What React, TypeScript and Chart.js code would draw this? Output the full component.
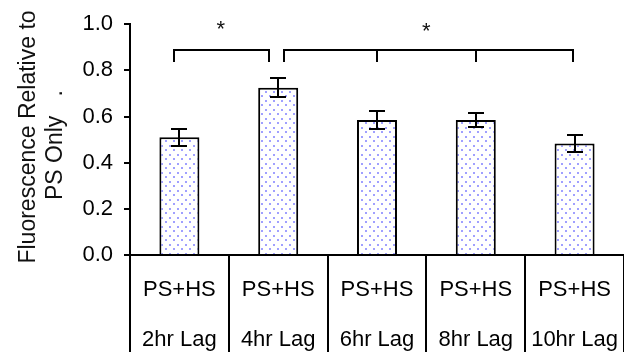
import React, { useEffect, useRef } from 'react';
import { Chart, registerables } from 'chart.js';

Chart.register(...registerables);

// ---- data ----
const treatment = 'PS+HS';
const lags = ['2hr Lag', '4hr Lag', '6hr Lag', '8hr Lag', '10hr Lag'];
const means = [0.51, 0.725, 0.585, 0.585, 0.483];
const sems = [0.038, 0.04, 0.039, 0.03, 0.035];
const yTitle = ['Fluorescence Relative to', 'PS Only   .'];
// significance brackets (category positions) and heights (data units)
const bracket1Legs = [-0.05, 0.91];
const bracket2Legs = [1.06, 2, 3, 3.98];
const bracketTop = 0.888;
const bracketFoot = 0.835;
const starX = [0.42, 2.5];
const starY = [0.98, 0.97];

const FONT = "'Liberation Sans', Arial, sans-serif";
const CANVAS_W = 628;
const CANVAS_H = 352;

function makePattern(): CanvasPattern | string {
  const c = document.createElement('canvas');
  c.width = 8;
  c.height = 9;
  const g = c.getContext('2d');
  if (!g) return '#ddf';
  g.fillStyle = '#ffffff';
  g.fillRect(0, 0, 8, 9);
  g.fillStyle = 'rgb(160,160,255)';
  g.fillRect(1, 1, 2, 2);
  g.fillRect(5, 5, 2, 2);
  const p = g.createPattern(c, 'repeat');
  return p || '#ddf';
}

const overlay = {
  id: 'overlay',
  afterDraw(chart: any) {
    const ctx = chart.ctx as CanvasRenderingContext2D;
    const xs = chart.scales.x;
    const ys = chart.scales.y;
    ctx.save();
    ctx.strokeStyle = '#000';
    ctx.lineWidth = 2;
    ctx.lineCap = 'butt';
    // error bars
    means.forEach((m, i) => {
      const x = Math.round(xs.getPixelForValue(i));
      const yT = Math.round(ys.getPixelForValue(m + sems[i]));
      const yB = Math.round(ys.getPixelForValue(m - sems[i]));
      ctx.beginPath();
      ctx.moveTo(x, yT);
      ctx.lineTo(x, yB);
      ctx.moveTo(x - 8, yT);
      ctx.lineTo(x + 8, yT);
      ctx.moveTo(x - 8, yB);
      ctx.lineTo(x + 8, yB);
      ctx.stroke();
    });
    // brackets
    const yTop = Math.round(ys.getPixelForValue(bracketTop));
    const yFoot = Math.round(ys.getPixelForValue(bracketFoot));
    [bracket1Legs, bracket2Legs].forEach((legs) => {
      const xsPix = legs.map((v) => Math.round(xs.getPixelForValue(v)));
      ctx.beginPath();
      ctx.moveTo(xsPix[0] - 1, yTop);
      ctx.lineTo(xsPix[xsPix.length - 1] + 1, yTop);
      xsPix.forEach((x) => {
        ctx.moveTo(x, yTop - 1);
        ctx.lineTo(x, yFoot);
      });
      ctx.stroke();
    });
    // stars
    ctx.fillStyle = '#111';
    ctx.font = `22px ${FONT}`;
    ctx.textAlign = 'center';
    ctx.textBaseline = 'alphabetic';
    starX.forEach((sx, i) => {
      ctx.fillText('*', xs.getPixelForValue(sx), ys.getPixelForValue(starY[i]) + 7);
    });
    // category dividers below axis
    const yAxis = ys.getPixelForValue(0);
    for (let k = 0; k <= lags.length; k++) {
      const x = Math.round(xs.getPixelForValue(k - 0.5));
      ctx.beginPath();
      ctx.moveTo(x, yAxis);
      ctx.lineTo(x, chart.height);
      ctx.stroke();
    }
    // y title
    ctx.font = `23px ${FONT}`;
    ctx.fillStyle = '#111';
    ctx.textBaseline = 'alphabetic';
    ctx.save();
    ctx.translate(35, 137);
    ctx.rotate(-Math.PI / 2);
    ctx.textAlign = 'center';
    ctx.fillText(yTitle[0], 0, 0);
    ctx.restore();
    ctx.save();
    ctx.translate(62, 200);
    ctx.rotate(-Math.PI / 2);
    ctx.textAlign = 'left';
    ctx.fillText(yTitle[1], 0, 0);
    ctx.restore();
    ctx.restore();
  },
};

export default function App() {
  const ref = useRef<HTMLCanvasElement | null>(null);
  useEffect(() => {
    if (!ref.current) return;
    const chart = new Chart(ref.current, {
      type: 'bar',
      data: {
        labels: lags.map((l) => [treatment, l]),
        datasets: [
          {
            data: means,
            backgroundColor: makePattern() as any,
            borderColor: '#000',
            borderWidth: 2,
            categoryPercentage: 1,
            barPercentage: 0.405,
          },
        ],
      },
      options: {
        responsive: false,
        animation: false,
        devicePixelRatio: 1,
        layout: { padding: { top: 23, left: 0, right: 0, bottom: 0 } },
        plugins: { legend: { display: false }, tooltip: { enabled: false } },
        scales: {
          x: {
            type: 'category',
            offset: true,
            grid: { display: false, drawTicks: false },
            border: { display: true, color: '#000', width: 2 },
            ticks: {
              autoSkip: false,
              maxRotation: 0,
              padding: 10,
              color: '#000',
              font: { family: FONT, size: 22, lineHeight: '50px' as any },
            },
            afterFit: (s: any) => {
              s.height = 97;
            },
          },
          y: {
            min: 0,
            max: 1,
            grid: {
              display: true,
              drawOnChartArea: false,
              drawTicks: true,
              tickLength: 6,
              color: '#000',
              lineWidth: 2,
            },
            border: { display: true, color: '#000', width: 2 },
            ticks: {
              stepSize: 0.2,
              padding: 11,
              color: '#000',
              font: { family: FONT, size: 22 },
              callback: (v: any) => Number(v).toFixed(1),
            },
            afterFit: (s: any) => {
              s.width = 130;
            },
          },
        },
      },
      plugins: [overlay],
    });
    return () => chart.destroy();
  }, []);
  return (
    <div
      style={{
        position: 'fixed',
        left: 0,
        top: 0,
        width: 624,
        height: 352,
        overflow: 'hidden',
        background: '#fff',
      }}
    >
      <canvas ref={ref} width={CANVAS_W} height={CANVAS_H} style={{ display: 'block' }} />
    </div>
  );
}
